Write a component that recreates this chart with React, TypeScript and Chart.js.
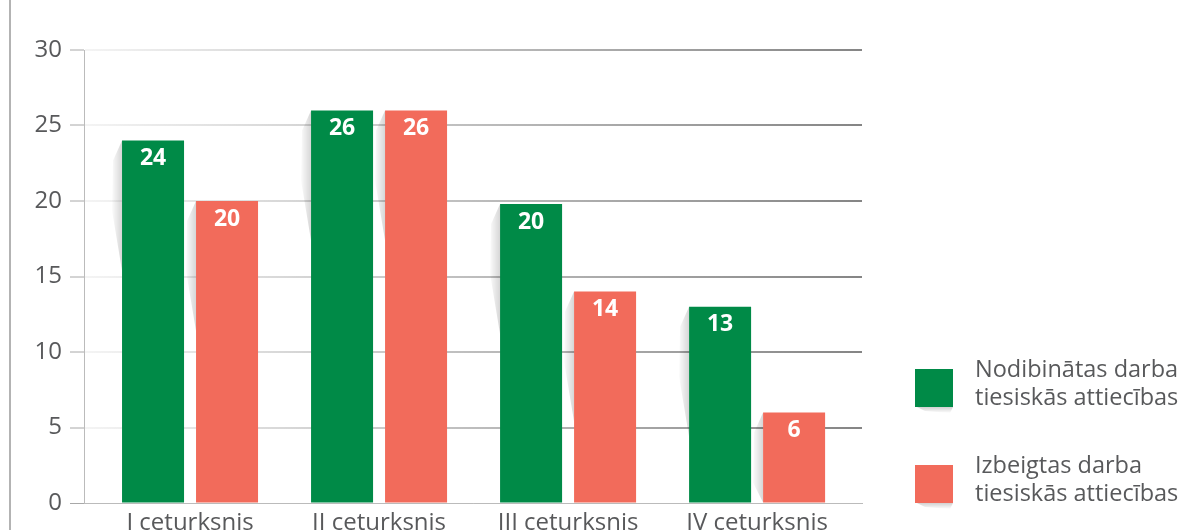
import React, { useEffect, useRef } from "react";
import { Chart, registerables } from "chart.js";

Chart.register(...registerables);

const categories = ["I ceturksnis", "II ceturksnis", "III ceturksnis", "IV ceturksnis"];
const established = [24, 26, 19.8, 13];
const terminated = [20, 26, 14, 6];
const legendLabels = [
  ["Nodibinātas darba", "tiesiskās attiecības"],
  ["Izbeigtas darba", "tiesiskās attiecības"],
];
const yTicks = [0, 5, 10, 15, 20, 25, 30];

const GREEN = "#008a47";
const RED = "#f26b5b";
const TEXT = "#58595b";
const FONT = "'Open Sans', 'Noto Sans', sans-serif";

const decorPlugin = {
  id: "decor",
  beforeDatasetsDraw(chart: any) {
    const ctx = chart.ctx;
    chart.data.datasets.forEach((_: any, di: number) => {
      const meta = chart.getDatasetMeta(di);
      meta.data.forEach((bar: any) => {
        const x0 = bar.x - bar.width / 2;
        const top = bar.y;
        const h = bar.base - bar.y;
        const g = ctx.createLinearGradient(x0 - 11, 0, x0, 0);
        g.addColorStop(0, "rgba(0,0,0,0)");
        g.addColorStop(1, "rgba(0,0,0,0.16)");
        ctx.save();
        ctx.fillStyle = g;
        ctx.beginPath();
        ctx.moveTo(x0, top);
        ctx.lineTo(x0 - 9, top + Math.min(20, h));
        ctx.lineTo(x0 - 10, top + Math.min(70, h));
        ctx.lineTo(x0, top + Math.min(130, h));
        ctx.closePath();
        ctx.fill();
        ctx.restore();
      });
    });
  },
  afterDatasetsDraw(chart: any) {
    const ctx = chart.ctx;
    ctx.save();
    ctx.fillStyle = "#ffffff";
    ctx.font = `bold 23px ${FONT}`;
    ctx.textAlign = "center";
    ctx.textBaseline = "middle";
    chart.data.datasets.forEach((ds: any, di: number) => {
      const meta = chart.getDatasetMeta(di);
      meta.data.forEach((bar: any, i: number) => {
        ctx.fillText(String(Math.round(ds.data[i])), bar.x, bar.y + 18);
      });
    });
    ctx.restore();
  },
  afterDraw(chart: any) {
    const ctx = chart.ctx;
    ctx.save();
    ctx.fillStyle = "#b3b3b3";
    ctx.fillRect(9, 0, 2, chart.height);
    const colors = [GREEN, RED];
    const tops = [369, 465];
    legendLabels.forEach((lines, i) => {
      const y = tops[i];
      const sg = ctx.createLinearGradient(0, y + 38, 0, y + 44);
      sg.addColorStop(0, "rgba(0,0,0,0.18)");
      sg.addColorStop(1, "rgba(0,0,0,0)");
      ctx.fillStyle = sg;
      ctx.beginPath();
      ctx.moveTo(917, y + 38);
      ctx.lineTo(953, y + 38);
      ctx.lineTo(950, y + 44);
      ctx.lineTo(925, y + 42);
      ctx.closePath();
      ctx.fill();
      ctx.fillStyle = colors[i];
      ctx.fillRect(915, y, 38, 38);
      ctx.fillStyle = TEXT;
      ctx.font = `23.5px ${FONT}`;
      ctx.textAlign = "left";
      ctx.textBaseline = "alphabetic";
      ctx.fillText(lines[0], 975, y + 8);
      ctx.fillText(lines[1], 975, y + 36);
    });
    ctx.restore();
  },
};

export default function App() {
  const ref = useRef<HTMLCanvasElement | null>(null);
  useEffect(() => {
    if (!ref.current) return;
    const chart = new Chart(ref.current, {
      type: "bar",
      data: {
        labels: categories,
        datasets: [
          {
            label: legendLabels[0].join(" "),
            data: established,
            backgroundColor: GREEN,
            categoryPercentage: 0.783,
            barPercentage: 0.838,
          },
          {
            label: legendLabels[1].join(" "),
            data: terminated,
            backgroundColor: RED,
            categoryPercentage: 0.783,
            barPercentage: 0.838,
          },
        ],
      },
      options: {
        animation: false,
        responsive: true,
        maintainAspectRatio: false,
        layout: { padding: { left: 0, right: 320, top: 50, bottom: 0 } },
        plugins: {
          legend: { display: false },
          tooltip: { enabled: false },
        },
        scales: {
          x: {
            grid: { display: false, drawTicks: false },
            border: { display: true, color: "#bbbbbb", width: 1 },
            ticks: {
              color: TEXT,
              font: { family: FONT, size: 24 },
              padding: 6,
              maxRotation: 0,
            },
            afterBuildTicks: (scale: any) => {
              scale._startValue = -0.561;
              scale._valueRange = 4.116;
            },
            afterFit: (scale: any) => {
              scale.height = 27;
            },
          },
          y: {
            min: 0,
            max: 30,
            afterBuildTicks: (scale: any) => {
              scale.ticks = yTicks.map((v) => ({ value: v }));
            },
            grid: {
              lineWidth: (c: any) => (c.tick && c.tick.value === 0 ? 1 : 2),
              color: (c: any) => {
                const ca = c.chart.chartArea;
                if (!ca) return "#cccccc";
                if (c.tick && c.tick.value === 0) return "#bbbbbb";
                const g = c.chart.ctx.createLinearGradient(ca.left, 0, ca.right, 0);
                g.addColorStop(0, "#f4f4f4");
                g.addColorStop(0.5, "#bdbdbd");
                g.addColorStop(1, "#858585");
                return g;
              },
              tickColor: "#a8a8a8",
              tickLength: 14,
              tickWidth: 1,
            },
            border: { display: true, color: "#bbbbbb", width: 1 },
            ticks: {
              color: TEXT,
              font: { family: FONT, size: 24 },
              padding: 8,
            },
            afterFit: (scale: any) => {
              scale.width = 84;
            },
          },
        },
      },
      plugins: [decorPlugin],
    });
    return () => chart.destroy();
  }, []);
  return (
    <div style={{ position: "absolute", left: 0, top: 0, width: 1182, height: 530, background: "#fff" }}>
      <canvas ref={ref} />
    </div>
  );
}
